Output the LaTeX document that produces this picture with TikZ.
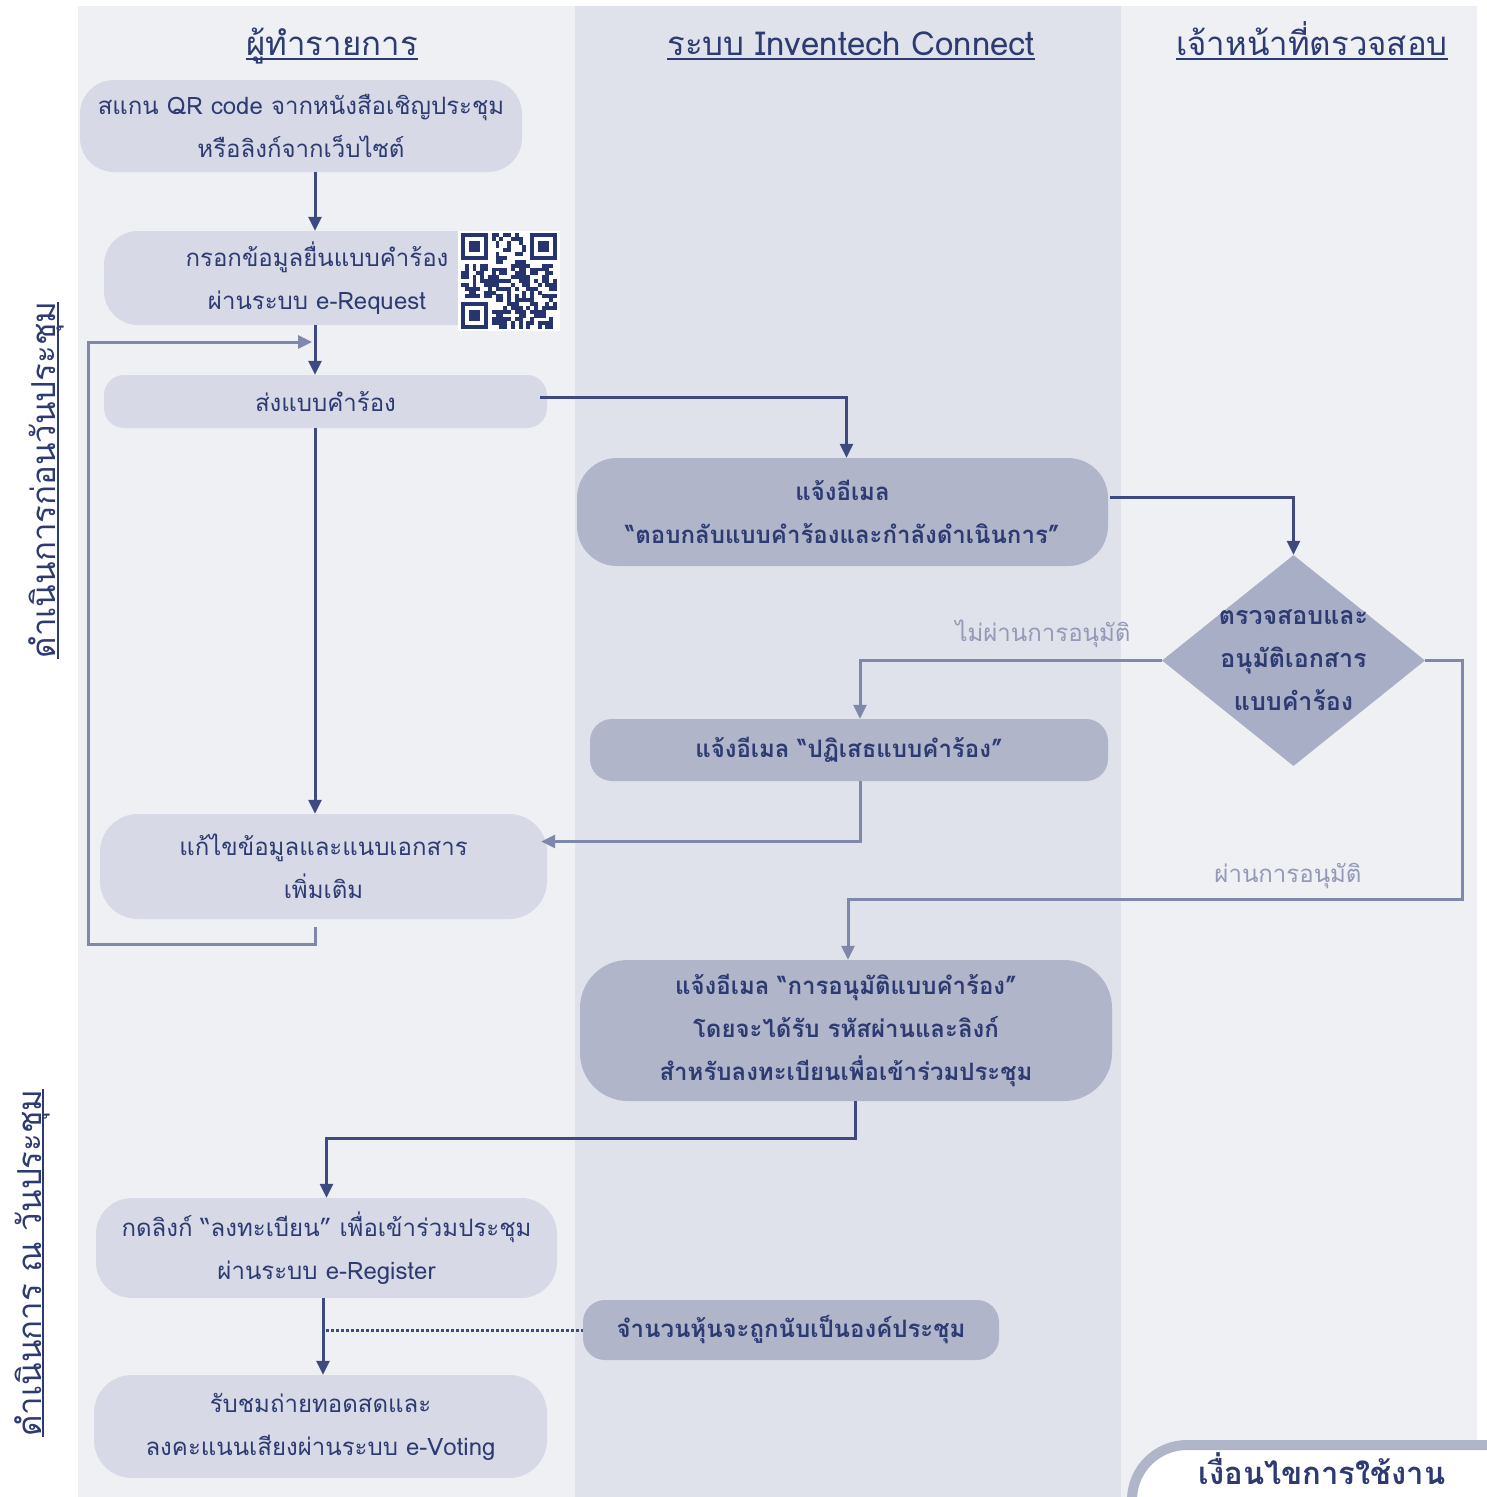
\documentclass[tikz,border=0pt]{standalone}
\usepackage{fontspec}
\setmainfont[Script=Thai]{Loma}
\usetikzlibrary{arrows.meta,shapes.geometric,calc}
\definecolor{laneL}{HTML}{EFF0F4}
\definecolor{laneM}{HTML}{DFE2EA}
\definecolor{boxL}{HTML}{D7DAE6}
\definecolor{boxM}{HTML}{B0B5CA}
\definecolor{diaC}{HTML}{A8AEC6}
\definecolor{txt}{HTML}{2D3B72}
\definecolor{dline}{HTML}{3C4A7F}
\definecolor{lline}{HTML}{7F88AA}
\definecolor{labc}{HTML}{9399B6}
\definecolor{qrc}{HTML}{27356E}
\begin{document}
\begin{tikzpicture}[x=1pt,y=-1pt,
  box/.style={rounded corners=28pt, inner sep=0pt, align=center, text=txt},
  lbox/.style={box, fill=boxL, font=\fontsize{24}{43}\selectfont},
  mbox/.style={box, fill=boxM, font=\bfseries\fontsize{24}{43}\selectfont},
  hdr/.style={text=txt, inner sep=0pt, anchor=base, font=\fontsize{33}{38}\selectfont},
  vlab/.style={text=txt, inner sep=0pt, anchor=base, rotate=90, font=\fontsize{33}{38}\selectfont},
  uline/.style={draw=txt, line width=1.5pt},
  darr/.style={draw=dline, line width=3pt, -{Triangle[width=13pt,length=14pt]}},
  larr/.style={draw=lline, line width=3pt, -{Triangle[width=13pt,length=14pt]}},
  lab/.style={text=labc, inner sep=0pt, font=\fontsize{24}{28}\selectfont},
]
\useasboundingbox (0,0) rectangle (1487,1497);
\fill[white] (0,0) rectangle (1487,1497);
% lanes
\fill[laneL] (78,6) rectangle (575,1497);
\fill[laneM] (575,6) rectangle (1121,1497);
\fill[laneL] (1121,6) rectangle (1477,1497);

% headers
\node[hdr] (h1) at (332,55) {ผู้ทำรายการ};
\node[hdr] (h2) at (851,55) {ระบบ Inventech Connect};
\node[hdr] (h3) at (1312,55) {เจ้าหน้าที่ตรวจสอบ};
\foreach \h in {h1,h2,h3}{\draw[uline] ($(\h.base west)+(0,4)$) -- ($(\h.base east)+(0,4)$);}

% vertical labels
\node[vlab] (v1) at (55,480) {ดำเนินการก่อนวันประชุม};
\node[vlab] (v2) at (41,1263) {ดำเนินการ ณ วันประชุม};
\draw[uline] ($(v1.base west)+(3,0)$) -- ($(v1.base east)+(3,0)$);
\draw[uline] ($(v2.base west)+(2,0)$) -- ($(v2.base east)+(2,0)$);

% coordinates for vertical spines
\coordinate (spine) at (315,0);
\coordinate (spineB) at (323,0);

% left lane boxes
\node[lbox, minimum width=442pt, minimum height=92pt, rounded corners=34pt] (scan) at (301,126) {สแกน QR code จากหนังสือเชิญประชุม\\หรือลิงก์จากเว็บไซต์};
\node[lbox, minimum width=426pt, minimum height=94pt, rounded corners=34pt] (fill) at (317,278) {กรอกข้อมูลยื่นแบบคำร้อง\\ผ่านระบบ e-Request};
\node[lbox, minimum width=443pt, minimum height=53pt, rounded corners=20pt] (send) at (325.5,401.5) {ส่งแบบคำร้อง};
\node[lbox, minimum width=447pt, minimum height=105pt, rounded corners=38pt] (edit) at (323.5,866.5) {แก้ไขข้อมูลและแนบเอกสาร\\เพิ่มเติม};
\node[lbox, minimum width=461pt, minimum height=100pt, rounded corners=36pt] (click) at (326.5,1248) {กดลิงก์ “ลงทะเบียน” เพื่อเข้าร่วมประชุม\\ผ่านระบบ e-Register};
\node[lbox, minimum width=453pt, minimum height=103pt, rounded corners=38pt] (watch) at (320.5,1426.5) {รับชมถ่ายทอดสดและ\\ลงคะแนนเสียงผ่านระบบ e-Voting};

% QR code
\node[fill=white, inner sep=0pt, minimum width=102pt, minimum height=100pt] (qr) at (509,281) {};
\begin{scope}
\pgfmathsetseed{31}
\foreach \i in {0,...,24}{\foreach \j in {0,...,24}{
  \pgfmathrandominteger{\r}{0}{1}
  \pgfmathtruncatemacro{\inf}{or(or(and(\i<8,\j<8),and(\i>16,\j<8)),and(\i<8,\j>16))}
  \ifnum\inf=0 \ifnum\r=1 \fill[qrc] (461+\i*3.84,233+\j*3.84) rectangle ++(3.9,3.9); \fi\fi
}}
\foreach \a/\b in {0/0,18/0,0/18}{
  \fill[qrc] (461+\a*3.84,233+\b*3.84) rectangle ++(26.88,26.88);
  \fill[white] (461+\a*3.84+3.84,233+\b*3.84+3.84) rectangle ++(19.2,19.2);
  \fill[qrc] (461+\a*3.84+7.68,233+\b*3.84+7.68) rectangle ++(11.52,11.52);
}
\end{scope}

% middle lane boxes
\node[mbox, minimum width=531pt, minimum height=108pt, rounded corners=40pt] (mail1) at (842.5,512) {แจ้งอีเมล\\“ตอบกลับแบบคำร้องและกำลังดำเนินการ”};
\node[mbox, minimum width=518pt, minimum height=62pt, rounded corners=22pt] (reject) at (849,750) {แจ้งอีเมล “ปฏิเสธแบบคำร้อง”};
\node[mbox, minimum width=532pt, minimum height=141pt, rounded corners=48pt] (approve) at (846,1030.5) {แจ้งอีเมล “การอนุมัติแบบคำร้อง”\\โดยจะได้รับ รหัสผ่านและลิงก์\\สำหรับลงทะเบียนเพื่อเข้าร่วมประชุม};
\node[mbox, minimum width=416pt, minimum height=60pt, rounded corners=22pt] (quorum) at (791,1330) {จำนวนหุ้นจะถูกนับเป็นองค์ประชุม};

% diamond
\node[diamond, fill=diaC, inner sep=0pt, minimum width=263pt, minimum height=211pt] (dia) at (1293.5,660.5) {};
\node[text=txt, align=center, inner sep=0pt, font=\bfseries\fontsize{25}{43}\selectfont] (diat) at (dia.center) {ตรวจสอบและ\\อนุมัติเอกสาร\\แบบคำร้อง};

% labels
\node[lab] (lno) at (1043,634) {ไม่ผ่านการอนุมัติ};
\node[lab] (lyes) at (1288,876) {ผ่านการอนุมัติ};

% junction coordinates
\coordinate (loopL) at (88,944);
\coordinate (loopE) at (312,342);
\coordinate (apj) at (1462,899);
\coordinate (jc) at (855,1138);

% connectors
\draw[darr] (scan.south -| spine) -- (fill.north -| spine);
\draw[darr] (fill.south -| spine) -- (send.north -| spine);
\draw[darr] (send.south -| spine) -- (edit.north -| spine);
\draw[darr] ($(send.east)+(-7,-4)$) -| ($(mail1.north)+(4,0)$);
\draw[darr] ($(mail1.east)+(2,-15)$) -| (dia.north);
\draw[larr] (dia.west) -| ($(reject.north)+(11,0)$);
\draw[larr] ($(reject.south)+(11,0)$) |- ($(edit.east)+(-6,-25)$);
\draw[larr] (dia.east) -| (apj) -| ($(approve.north)+(2,0)$);
\draw[larr] ($(edit.south -| spine)+(0,8)$) |- (loopL) |- (loopE);
\draw[darr] ($(approve.south)+(9,0)$) -- (jc) -| (click.north);
\draw[darr] (click.south -| spineB) -- (watch.north -| spineB);
\draw[draw=dline, line width=3pt, dotted] ($(quorum.west -| spineB)+(3,0)$) -- (quorum.west);

% bottom-right conditions box
\begin{scope}
\clip (0,0) rectangle (1487,1497);
\draw[draw=boxM, line width=10pt, fill=white, rounded corners=55pt] (1132,1445) rectangle (1560,1600);
\end{scope}
\node[text=txt, inner sep=0pt, font=\bfseries\fontsize{31}{36}\selectfont] (cond) at (1322,1469) {เงื่อนไขการใช้งาน};
\end{tikzpicture}
\end{document}
